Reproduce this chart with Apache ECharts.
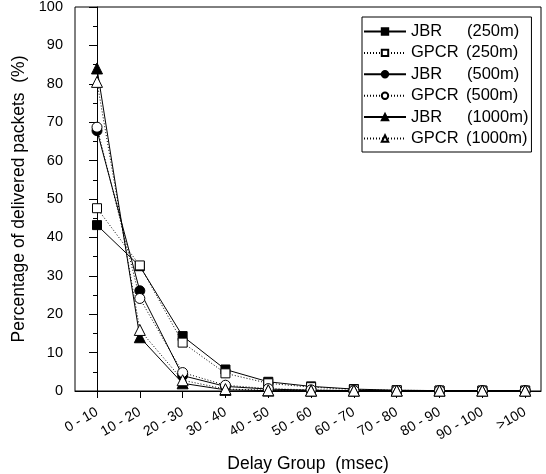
<!DOCTYPE html>
<html><head><meta charset="utf-8">
<script src="https://cdn.jsdelivr.net/npm/echarts@6/dist/echarts.min.js"></script>
<style>html,body{margin:0;padding:0;background:#fff}#c{width:546px;height:474px}</style>
</head><body><div id="c"></div>
<script>
const categories = ['0 - 10','10 - 20','20 - 30','30 - 40','40 - 50','50 - 60','60 - 70','70 - 80','80 - 90','90 - 100','>100'];
const jbr250  = [43.2, 32.5, 14.3, 5.6, 2.4, 1.2, 0.5, 0.2, 0.1, 0.1, 0.1];
const gpcr250 = [47.6, 32.7, 12.6, 4.6, 2.0, 1.0, 0.4, 0.2, 0.1, 0.1, 0.1];
const jbr500  = [67.8, 26.1, 4.0, 1.2, 0.5, 0.2, 0.1, 0.1, 0.1, 0.1, 0.1];
const gpcr500 = [68.7, 24.1, 4.8, 1.5, 0.6, 0.3, 0.1, 0.1, 0.1, 0.1, 0.1];
const jbr1000 = [84.0, 14.0, 2.0, 0.3, 0.1, 0.1, 0.1, 0.1, 0.1, 0.1, 0.1];
const gpcr1000= [80.5, 15.9, 2.8, 0.5, 0.2, 0.1, 0.1, 0.1, 0.1, 0.1, 0.1];
const yTicks = [0,10,20,30,40,50,60,70,80,90,100];

const FONT = 'Liberation Sans';
const idx = categories.map((_, i) => i);
function pts(arr){ return arr.map((v,i)=>[i,v]); }
function mk(name, data, symbol, size, hollow){
  return {
    name, type:'line', data: pts(data), symbol, symbolSize:size,
    showSymbol:true, animation:false,
    lineStyle:{color:'#000', width:1, type: hollow ? [1,2] : 'solid'},
    itemStyle:{color: hollow ? '#fff' : '#000', borderColor:'#000', borderWidth:1}
  };
}
const chart = echarts.init(document.getElementById('c'), null, {renderer:'canvas'});
chart.setOption({
  animation:false,
  backgroundColor:'#fff',
  grid:{left:75, right:5, top:7, bottom:83, show:true, borderColor:'#000', borderWidth:1,
        outerBoundsMode:'none', containLabel:false},
  legend:{
    orient:'vertical', left:362, top:17, padding:[6,3,5,1],
    borderColor:'#000', borderWidth:1, itemWidth:42, itemHeight:8, itemGap:4.4,
    textStyle:{fontFamily:FONT, fontSize:16.5, color:'#000', lineHeight:17,
      rich:{a:{fontFamily:FONT,fontSize:16.5,width:56,lineHeight:17},
            g:{fontFamily:FONT,fontSize:16.5,width:55,lineHeight:17},
            b:{fontFamily:FONT,fontSize:16.5,lineHeight:17}}},
    formatter: n => { const p = n.split(' '); return (p[0]==='JBR' ? '{a|' : '{g|') + p[0] + '}{b|' + p.slice(1).join(' ') + '}'; },
    data:['JBR (250m)','GPCR (250m)','JBR (500m)','GPCR (500m)','JBR (1000m)','GPCR (1000m)']
  },
  xAxis:{
    type:'value', min:-0.514, max:10.37,
    name:'Delay Group  (msec)', nameLocation:'middle', nameGap:64,
    nameTextStyle:{fontFamily:FONT, fontSize:17.5, color:'#000'},
    axisLine:{lineStyle:{color:'#000', width:1}},
    axisTick:{show:true, inside:false, length:7, customValues: idx, lineStyle:{color:'#000'}},
    axisLabel:{customValues: idx, rotate:30, margin:20, fontFamily:FONT, fontSize:14, color:'#000',
      formatter: v => categories[Math.round(v)]},
    splitLine:{show:false}
  },
  yAxis:{
    type:'value', min:0, max:100, interval:10,
    name:'Percentage of delivered packets  (%)', nameLocation:'middle', nameGap:46,
    nameTextStyle:{fontFamily:FONT, fontSize:17.5, color:'#000'},
    axisLine:{show:true, lineStyle:{color:'#000', width:1}},
    axisTick:{show:true, length:8, lineStyle:{color:'#000'}},
    minorTick:{show:true, splitNumber:2, length:4, lineStyle:{color:'#000'}},
    axisLabel:{fontFamily:FONT, fontSize:14.5, color:'#000', margin:12,
      formatter: v => yTicks.includes(v) ? String(v) : ''},
    splitLine:{show:false}
  },
  series:[
    mk('JBR (250m)', jbr250, 'rect', 9, false),
    mk('GPCR (250m)', gpcr250, 'rect', 9, true),
    mk('JBR (500m)', jbr500, 'circle', 10, false),
    mk('GPCR (500m)', gpcr500, 'circle', 10, true),
    mk('JBR (1000m)', jbr1000, 'triangle', 11, false),
    mk('GPCR (1000m)', gpcr1000, 'triangle', 11, true)
  ]
});
</script></body></html>
